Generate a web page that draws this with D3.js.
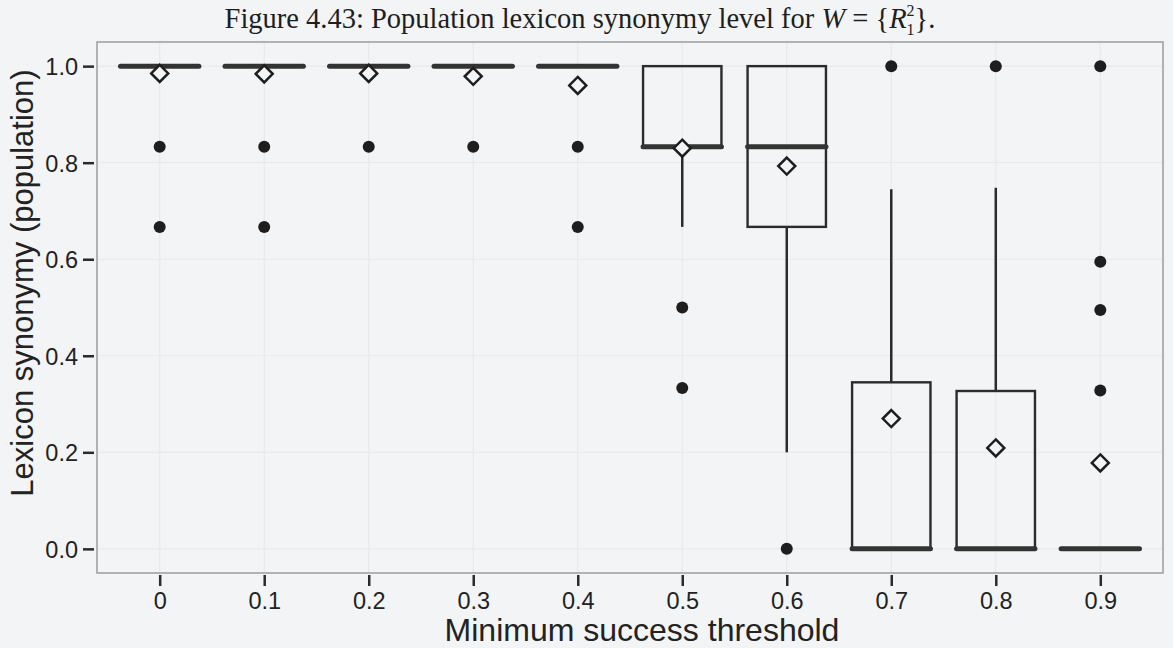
<!DOCTYPE html>
<html><head><meta charset="utf-8">
<script src="https://cdn.jsdelivr.net/npm/d3@7"></script>
<style>
html,body{margin:0;padding:0;background:#f3f4f6;}
svg{display:block;}
</style></head>
<body>
<svg id="chart" width="1173" height="648"></svg>
<script>
// ---- data ----
const categories = ["0","0.1","0.2","0.3","0.4","0.5","0.6","0.7","0.8","0.9"];
const q1         = [1, 1, 1, 1, 1, 0.833, 0.667, 0, 0, 0];
const medians    = [1, 1, 1, 1, 1, 0.833, 0.833, 0, 0, 0];
const q3         = [1, 1, 1, 1, 1, 1, 1, 0.345, 0.327, 0];
const whiskerLo  = [1, 1, 1, 1, 1, 0.667, 0.2, 0, 0, 0];
const whiskerHi  = [1, 1, 1, 1, 1, 1, 1, 0.745, 0.748, 0];
const means      = [0.985, 0.984, 0.985, 0.979, 0.960, 0.830, 0.793, 0.270, 0.209, 0.178];
const outliers   = [[0.833,0.667],[0.833,0.667],[0.833],[0.833],[0.833,0.667],[0.5,0.333],[0],[1],[1],[1,0.595,0.495,0.328]];
const yTicks     = [0, 0.2, 0.4, 0.6, 0.8, 1.0];
const yTickLabels= ["0.0","0.2","0.4","0.6","0.8","1.0"];
const titleText  = "Figure 4.43: Population lexicon synonymy level for ";
const xTitle     = "Minimum success threshold";
const yTitle     = "Lexicon synonymy (population)";

const rows = categories.map((c,i)=>({cat:c,q1:q1[i],med:medians[i],q3:q3[i],lo:whiskerLo[i],hi:whiskerHi[i],mean:means[i],out:outliers[i]}));

// ---- layout ----
const panel = {left:97, right:1163, top:42, bottom:573};
const ink = "#2b2b2b";
const bg = "#f3f4f6";

const svg = d3.select("#chart");
svg.append("rect").attr("width",1173).attr("height",648).attr("fill",bg);

const x = d3.scalePoint().domain(categories).range([panel.left,panel.right]).padding(0.6);
const y = d3.scaleLinear().domain([-0.05,1.05]).range([panel.bottom,panel.top]);
const bw = x.step()*0.75;

// grid (faint)
const grid = svg.append("g");
grid.selectAll("line.gy").data(yTicks).join("line")
  .attr("x1",panel.left).attr("x2",panel.right)
  .attr("y1",d=>y(d)).attr("y2",d=>y(d))
  .attr("stroke","#e7e9ec").attr("stroke-width",1.2);
grid.selectAll("line.gx").data(categories).join("line")
  .attr("y1",panel.top).attr("y2",panel.bottom)
  .attr("x1",d=>x(d)).attr("x2",d=>x(d))
  .attr("stroke","#e7e9ec").attr("stroke-width",1.2);

// panel border
svg.append("rect").attr("x",panel.left).attr("y",panel.top)
  .attr("width",panel.right-panel.left).attr("height",panel.bottom-panel.top)
  .attr("fill","none").attr("stroke","#9a9c9f").attr("stroke-width",1.5);

// axes
const yAxis = d3.axisLeft(y).tickValues(yTicks).tickFormat((d,i)=>yTickLabels[i]).tickSize(11).tickPadding(5);
const gy = svg.append("g").attr("transform",`translate(${panel.left-3},0)`).call(yAxis);
gy.select(".domain").remove();
gy.selectAll(".tick line").attr("stroke",ink).attr("stroke-width",2.5);
gy.selectAll(".tick text").attr("fill","#222").style("font-family","'Liberation Sans',Arial,sans-serif").style("font-size","23.5px").attr("dy","0.36em");

const xAxis = d3.axisBottom(x).tickSize(11).tickPadding(6);
const gx = svg.append("g").attr("transform",`translate(0,${panel.bottom+2})`).call(xAxis);
gx.select(".domain").remove();
gx.selectAll(".tick line").attr("stroke",ink).attr("stroke-width",2.5);
gx.selectAll(".tick text").attr("fill","#222").style("font-family","'Liberation Sans',Arial,sans-serif").style("font-size","23.5px");

// boxes
const g = svg.append("g");
const box = g.selectAll("g.box").data(rows).join("g");
box.append("line").attr("x1",d=>x(d.cat)).attr("x2",d=>x(d.cat))
  .attr("y1",d=>y(d.q3)).attr("y2",d=>y(d.hi))
  .attr("stroke",ink).attr("stroke-width",2.5);
box.append("line").attr("x1",d=>x(d.cat)).attr("x2",d=>x(d.cat))
  .attr("y1",d=>y(d.q1)).attr("y2",d=>y(d.lo))
  .attr("stroke",ink).attr("stroke-width",2.5);
box.append("rect").attr("x",d=>x(d.cat)-bw/2).attr("width",bw)
  .attr("y",d=>y(d.q3)).attr("height",d=>y(d.q1)-y(d.q3))
  .attr("fill","none").attr("stroke",ink).attr("stroke-width",2.4);
box.append("line").attr("x1",d=>x(d.cat)-bw/2).attr("x2",d=>x(d.cat)+bw/2)
  .attr("y1",d=>y(d.med)).attr("y2",d=>y(d.med))
  .attr("stroke","#333").attr("stroke-width",5).attr("stroke-linecap","round");

// outliers
const pts = rows.flatMap(d=>d.out.map(v=>({cat:d.cat,v})));
g.selectAll("circle.out").data(pts).join("circle")
  .attr("cx",d=>x(d.cat)).attr("cy",d=>y(d.v)).attr("r",6).attr("fill","#1e1e1e");

// mean diamonds
const dm = 8.5;
g.selectAll("path.mean").data(rows).join("path")
  .attr("d",d=>{const cx=x(d.cat), cy=y(d.mean);return `M${cx},${cy-dm}L${cx+dm},${cy}L${cx},${cy+dm}L${cx-dm},${cy}Z`;})
  .attr("fill",bg).attr("stroke","#1e1e1e").attr("stroke-width",2.5);

// axis titles
svg.append("text").attr("x",(panel.left+panel.right)/2+12).attr("y",641)
  .attr("text-anchor","middle").attr("fill","#222")
  .style("font-family","'Liberation Sans',Arial,sans-serif").style("font-size","32px")
  .text(xTitle);
svg.append("text").attr("transform","translate(33,283) rotate(-90)")
  .attr("text-anchor","middle").attr("fill","#222")
  .style("font-family","'Liberation Sans',Arial,sans-serif").style("font-size","31px")
  .text(yTitle);

// figure title
const t = svg.append("text").attr("x",580).attr("y",28).attr("text-anchor","middle")
  .attr("fill","#1e1e1e").style("font-family","'Liberation Serif','Times New Roman',serif").style("font-size","28.5px");
t.append("tspan").text(titleText);
t.append("tspan").style("font-style","italic").text("W");
t.append("tspan").text(" = {");
t.append("tspan").style("font-style","italic").text("R");
t.append("tspan").attr("dy",-12).style("font-size","16px").text("2");
t.append("tspan").attr("dx",-8).attr("dy",19).style("font-size","16px").text("1");
t.append("tspan").attr("dy",-7).text("}.");
</script>
</body></html>
